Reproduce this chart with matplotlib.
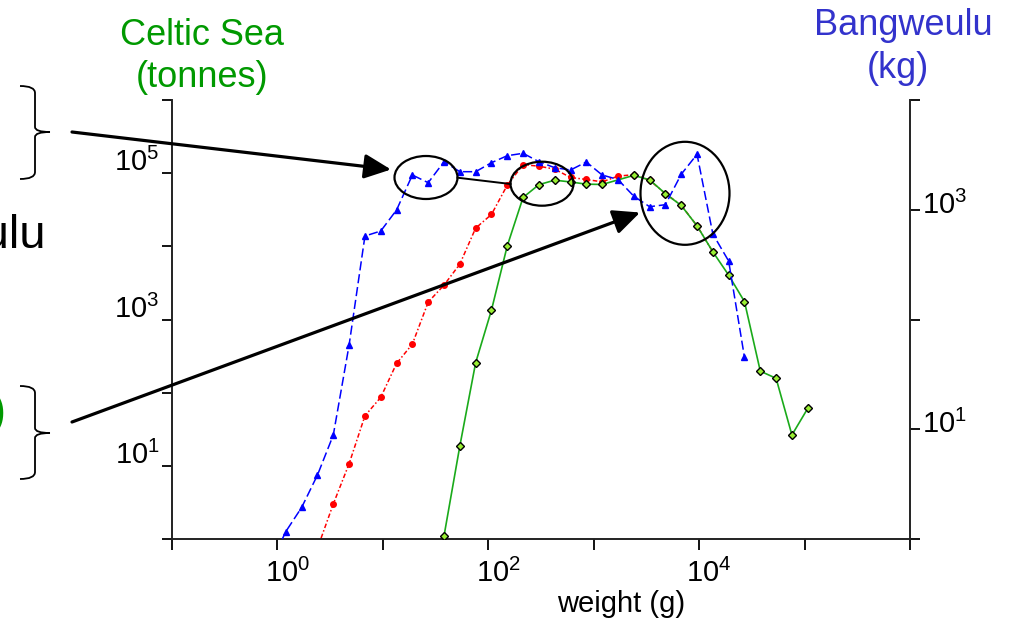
import numpy as np
import matplotlib
matplotlib.use('Agg')
import matplotlib.pyplot as plt
from matplotlib.patches import Ellipse, PathPatch
from matplotlib.path import Path
from matplotlib.ticker import NullLocator
from matplotlib.transforms import ScaledTranslation

plt.rcParams['font.family'] = ['Liberation Sans', 'DejaVu Sans']
plt.rcParams['mathtext.fontset'] = 'custom'
plt.rcParams['mathtext.rm'] = 'Liberation Sans'
plt.rcParams['mathtext.it'] = 'Liberation Sans'

# weight classes (g), 0.15 log10 steps
w_blue = [0.851, 1.202, 1.698, 2.399, 3.388, 4.786, 6.761, 9.550, 13.49, 19.05,
          26.92, 38.02, 53.70, 75.86, 107.2, 151.4, 213.8, 302.0, 426.6, 602.6,
          851.1, 1202, 1698, 2399, 3388, 4786, 6761, 9550, 13490, 19050, 26920]
# Bangweulu biomass (kg)
bangweulu = [0.58, 1.17, 1.94, 3.83, 8.86, 58.6, 576, 640, 995, 2073,
             1764, 2740, 2222, 2222, 2684, 3108, 3269, 2740, 2416, 2302,
             2724, 2073, 1886, 1329, 1066, 1112, 2104, 3201, 601, 341, 45.2]

w_red = [2.399, 3.388, 4.786, 6.761, 9.550, 13.49, 19.05, 26.92, 38.02, 53.70,
         75.86, 107.2, 151.4, 213.8, 302.0, 426.6, 602.6, 851.1, 1202, 1698,
         2399, 3388, 4786, 6761, 9550, 13490]
red_series = [0.75, 3.01, 10.7, 48.3, 86.3, 251, 461, 1729, 2951, 5713,
              17730, 27280, 68580, 130700, 124600, 113400, 87370, 82000, 76060, 91000,
              95400, 80230, 52480, 36530, 19060, 8414]

w_green = [38.02, 53.70, 75.86, 107.2, 151.4, 213.8, 302.0, 426.6, 602.6, 851.1,
           1202, 2399, 3388, 4786, 6761, 9550, 13490, 19050, 26920, 38020,
           53700, 75860, 107200]
# Celtic Sea biomass (tonnes)
celtic = [1.10, 18.6, 256, 1344, 10160, 46560, 69660, 80230, 75820, 70740,
          70080, 93300, 80990, 52480, 36190, 19060, 8414, 4042, 1756, 197,
          157, 26.4, 61.0]

x_ticks = [1e-1, 1e0, 1e1, 1e2, 1e3, 1e4, 1e5, 1e6]
x_labels = ['', r'$\mathregular{10^{0}}$', '', r'$\mathregular{10^{2}}$', '',
            r'$\mathregular{10^{4}}$', '', '']
yl_ticks = [1e0, 1e1, 1e2, 1e3, 1e4, 1e5, 1e6]
yl_labels = ['', r'$\mathregular{10^{1}}$', '', r'$\mathregular{10^{3}}$', '',
             r'$\mathregular{10^{5}}$', '']
yr_ticks = [1e0, 1e1, 1e2, 1e3, 1e4]
yr_labels = ['', r'$\mathregular{10^{1}}$', '', r'$\mathregular{10^{3}}$', '']

W, H = 1009, 624
fig = plt.figure(figsize=(W/100, H/100), dpi=100)
ax = fig.add_axes([172/W, 1-539/H, (910-172)/W, (539-100)/H])
ax2 = ax.twinx()

ax.set_xscale('log')
ax.set_yscale('log')
ax2.set_yscale('log')
ax.set_xlim(0.1, 1e6)
ax.set_ylim(1, 1e6)
ax2.set_ylim(1, 1e4)

# left axis: red and Celtic Sea, right axis: Bangweulu
ax.plot(w_red, red_series, color='red', lw=1.1, ls=(0, (3, 1.5, 1, 1.5)),
        marker='o', ms=4, mec='red', mfc='red', zorder=2)
ax.plot(w_green, celtic, color='#1aaa1a', lw=1.2, ls='-',
        marker='D', ms=4.5, mfc='#99ee33', mec='black', mew=1.0, zorder=3)
ax2.plot(w_blue, bangweulu, color='blue', lw=1.1, ls=(0, (6, 2.5)),
         marker='^', ms=5, mfc='blue', mec='blue', zorder=2)

for a in (ax, ax2):
    a.spines['top'].set_visible(False)
    a.xaxis.set_minor_locator(NullLocator())
    a.yaxis.set_minor_locator(NullLocator())
    for s in a.spines.values():
        s.set_linewidth(1.4)
        s.set_color('#222222')
ax.spines['right'].set_visible(False)
ax2.spines['left'].set_visible(False)
ax2.spines['bottom'].set_visible(False)

ax.set_xticks(x_ticks)
ax.set_xticklabels(x_labels)
ax.set_yticks(yl_ticks)
ax.set_yticklabels(yl_labels)
ax2.set_yticks(yr_ticks)
ax2.set_yticklabels(yr_labels)

ax.tick_params(axis='x', length=8, width=1.3, pad=6, labelsize=21, direction='out')
ax.tick_params(axis='y', length=7, width=1.3, pad=2, labelsize=21, direction='out')
ax2.tick_params(axis='y', length=7, width=1.3, pad=2, labelsize=21, direction='out')

for lab in ax.get_xticklabels():
    lab.set_transform(lab.get_transform() + ScaledTranslation(10/100, 0, fig.dpi_scale_trans))
for lab in ax.get_yticklabels():
    lab.set_va('baseline')
    lab.set_transform(lab.get_transform() + ScaledTranslation(0, 2/100, fig.dpi_scale_trans))
for lab in ax2.get_yticklabels():
    lab.set_va('baseline')
    lab.set_transform(lab.get_transform() + ScaledTranslation(0, -4/100, fig.dpi_scale_trans))

# overlay in pixel units for titles and annotations
ov = fig.add_axes([0, 0, 1, 1], zorder=10)
ov.set_xlim(0, W)
ov.set_ylim(H, 0)
ov.axis('off')
ov.patch.set_alpha(0)

ov.text(202, 45, 'Celtic Sea', color='#009900', fontsize=26, ha='center', va='baseline')
ov.text(202, 87, '(tonnes)', color='#009900', fontsize=26, ha='center', va='baseline')
ov.text(903, 35, 'Bangweulu', color='#3333cc', fontsize=26, ha='center', va='baseline')
ov.text(898, 78, '(kg)', color='#3333cc', fontsize=26, ha='center', va='baseline')
ov.text(621, 612, 'weight (g)', color='black', fontsize=21, ha='center', va='baseline')

# side labels running off the left edge
ov.text(46, 248, 'Bangweulu', color='black', fontsize=34, ha='right', va='baseline')
ov.text(6, 425, 'Celtic Sea (tonnes)', color='#009900', fontsize=34, ha='right', va='baseline')

# curly braces
def brace(top, mid, bot, xl=20, xm=35, xt=50):
    verts = [(xl, top), (xm, top), (xm, top + 7), (xm, mid - 5), (xm, mid), (xt, mid),
             (xl, bot), (xm, bot), (xm, bot - 7), (xm, mid + 5), (xm, mid), (xt, mid)]
    codes = [Path.MOVETO, Path.CURVE3, Path.CURVE3, Path.LINETO, Path.CURVE3, Path.CURVE3,
             Path.MOVETO, Path.CURVE3, Path.CURVE3, Path.LINETO, Path.CURVE3, Path.CURVE3]
    ov.add_patch(PathPatch(Path(verts, codes), fc='none', ec='black', lw=1.3))

brace(86, 132, 179)
brace(386, 433, 479)

# highlighted regions
for (cx, cy, ew, eh) in [(426, 177.5, 63, 43), (542, 183.7, 63, 44), (685, 193.3, 89, 103)]:
    ov.add_patch(Ellipse((cx, cy), ew, eh, fc='none', ec='black', lw=1.6))
ov.plot([457.5, 510.5], [177.7, 184], color='black', lw=1.4)

arrow = dict(arrowstyle='-|>,head_length=0.65,head_width=0.3', lw=2.3, color='black',
             mutation_scale=25, shrinkA=0, shrinkB=0)
ov.annotate('', xy=(391, 169.5), xytext=(72, 132), arrowprops=arrow)
ov.annotate('', xy=(640, 212.5), xytext=(72, 422), arrowprops=arrow)

fig.savefig('out.png', dpi=100)
